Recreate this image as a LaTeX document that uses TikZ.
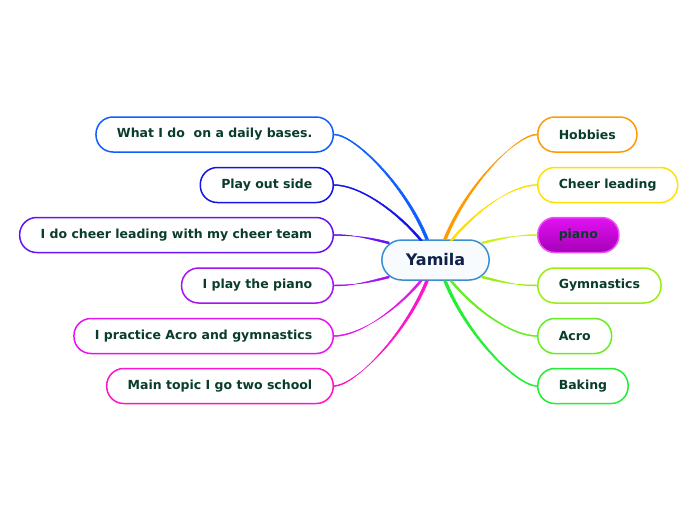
\documentclass[tikz,border=0pt]{standalone}
\usepackage{fontspec}
\setmainfont{DejaVu Sans}
\usetikzlibrary{positioning, calc}
\definecolor{leaftext}{RGB}{10,60,45}
\definecolor{yamtext}{RGB}{16,32,74}
\definecolor{yamline}{RGB}{58,143,208}
\definecolor{yamfill}{RGB}{247,251,253}
\definecolor{hobcol}{RGB}{255,154,0}
\definecolor{cheercol}{RGB}{255,224,0}
\definecolor{pianocol}{RGB}{208,240,32}
\definecolor{pianotop}{RGB}{226,18,242}
\definecolor{pianobot}{RGB}{165,0,182}
\definecolor{pianoline}{RGB}{236,80,248}
\definecolor{gymcol}{RGB}{153,238,17}
\definecolor{acrocol}{RGB}{102,238,34}
\definecolor{bakecol}{RGB}{34,238,51}
\definecolor{dailycol}{RGB}{15,95,255}
\definecolor{playcol}{RGB}{20,20,230}
\definecolor{teamcol}{RGB}{100,20,240}
\definecolor{ipianocol}{RGB}{165,20,240}
\definecolor{practcol}{RGB}{230,20,240}
\definecolor{schoolcol}{RGB}{255,20,200}

% tapered branch: colour, start, first control, second control, end, half width at start
\newcommand{\branch}[6]{%
  \filldraw[#1, line width=0.5pt, line join=round] ($(#2)+(#6)$) .. controls +(#3) and +(#4) .. ($(#5)+(0,-0.5)$)
    -- ($(#5)+(0,0.5)$) .. controls +(#4) and +(#3) .. ($(#2)-(#6)$) -- cycle;}

\begin{document}
\begin{tikzpicture}[x=1pt, y=-1pt,
  leaf/.style={draw, rectangle, rounded corners=17pt, line width=1.5pt, fill=white,
    minimum height=35pt, inner xsep=21pt, inner ysep=0pt, text=leaftext,
    font=\bfseries\fontsize{12.5}{14}\selectfont},
  rleaf/.style={leaf, anchor=west},
  lleaf/.style={leaf, anchor=east}]
\useasboundingbox (0,0) rectangle (696,520);

% Central topic
\node[draw=yamline, fill=yamfill, rectangle, rounded corners=20pt, line width=1.5pt,
  minimum height=40pt, inner xsep=24pt, text=yamtext,
  font=\bfseries\fontsize{16}{19}\selectfont] (yam) at (435.5,260) {Yamila};

% Right side
\node[rleaf, draw=hobcol] (hob) at (537,134.5) {Hobbies};
\node[rleaf, draw=cheercol] (cheer) at (537,185) {Cheer leading};
\node[rleaf, draw=pianoline, top color=pianotop, bottom color=pianobot] (piano) at (537,235) {piano};
\node[rleaf, draw=gymcol] (gym) at (537,285.5) {Gymnastics};
\node[rleaf, draw=acrocol] (acro) at (537,336) {Acro};
\node[rleaf, draw=bakecol] (bake) at (537,386) {Baking};

% Left side
\node[lleaf, draw=dailycol] (daily) at (334,134.5) {What I do\ \ on a daily bases.};
\node[lleaf, draw=playcol] (play) at (334,185) {Play out side};
\node[lleaf, draw=teamcol] (team) at (334,235) {I do cheer leading with my cheer team};
\node[lleaf, draw=ipianocol] (ipiano) at (334,285.5) {I play the piano};
\node[lleaf, draw=practcol] (pract) at (334,336) {I practice Acro and gymnastics};
\node[lleaf, draw=schoolcol] (school) at (334,386) {Main topic I go two school};

% Branches
\branch{hobcol}{$(yam.north)+(9.5,0)$}{22,-55}{-20,0}{hob.west}{1.5,0}
\branch{cheercol}{$(yam.north)+(16,1)$}{25,-30}{-25,0}{cheer.west}{1.3,0}
\branch{pianocol}{$(yam.east)+(-8,-17)$}{20,-5}{-20,0}{piano.west}{0,1}
\branch{gymcol}{$(yam.east)+(-8,17)$}{20,5}{-20,0}{gym.west}{0,1}
\branch{acrocol}{$(yam.south)+(15.5,0)$}{25,30}{-25,0}{acro.west}{1.3,0}
\branch{bakecol}{$(yam.south)+(9.5,0)$}{22,55}{-20,0}{bake.west}{1.5,0}
\branch{dailycol}{$(yam.north)+(-8.5,0)$}{-22,-55}{20,0}{daily.east}{1.5,0}
\branch{playcol}{$(yam.north)+(-14.5,1)$}{-25,-30}{25,0}{play.east}{1.3,0}
\branch{teamcol}{$(yam.west)+(8,-17)$}{-20,-5}{20,0}{team.east}{0,1}
\branch{ipianocol}{$(yam.west)+(8,17)$}{-20,5}{20,0}{ipiano.east}{0,1}
\branch{practcol}{$(yam.south)+(-14.5,0)$}{-25,30}{25,0}{pract.east}{1.3,0}
\branch{schoolcol}{$(yam.south)+(-8.5,0)$}{-22,55}{20,0}{school.east}{1.5,0}
\end{tikzpicture}
\end{document}
